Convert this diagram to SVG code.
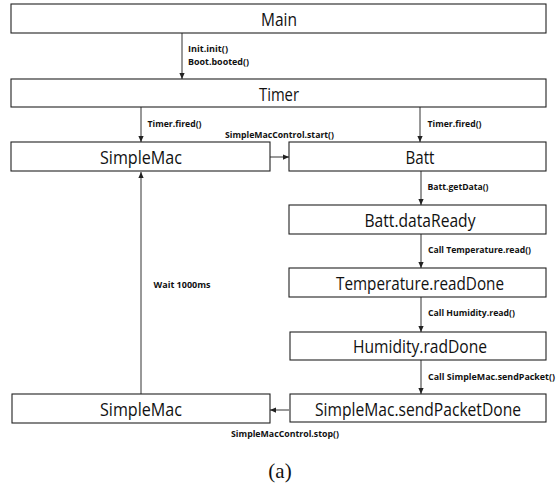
<svg xmlns="http://www.w3.org/2000/svg" width="557" height="485" viewBox="0 0 557 485">
<defs>
<marker id="ah" viewBox="0 0 8 8" refX="8" refY="4" markerWidth="6" markerHeight="6" markerUnits="userSpaceOnUse" orient="auto">
<path d="M0,0.5 L8,4 L0,7.5 Z" fill="#222"/>
</marker>
<style>
.box{fill:#fff;stroke:#222;stroke-width:1.1}
.bt{font-family:"Open Sans","Noto Sans",sans-serif;font-size:17.5px;fill:#111;text-anchor:middle}
.lb{font-family:"Open Sans","Noto Sans",sans-serif;font-size:8px;font-weight:bold;fill:#111}
.cn{fill:none;stroke:#333;stroke-width:1;marker-end:url(#ah)}
.cap{font-family:"Liberation Serif","Times New Roman",serif;font-size:21px;fill:#111;text-anchor:middle}
</style>
</defs>
<rect width="557" height="485" fill="#fff"/>
<g id="connectors">
<line class="cn" x1="182" y1="33" x2="182" y2="79"/>
<line class="cn" x1="141" y1="107" x2="141" y2="142"/>
<line class="cn" x1="420" y1="107" x2="420" y2="142"/>
<line class="cn" x1="270" y1="157" x2="289" y2="157"/>
<line class="cn" x1="421" y1="171" x2="421" y2="205"/>
<line class="cn" x1="421" y1="234" x2="421" y2="268"/>
<line class="cn" x1="421" y1="297" x2="421" y2="332"/>
<line class="cn" x1="421" y1="360" x2="421" y2="394"/>
<line class="cn" x1="289" y1="410" x2="270" y2="410"/>
<line class="cn" x1="141" y1="394" x2="141" y2="172"/>
</g>
<g id="labels">
<text class="lb" x="188" y="52" textLength="40" lengthAdjust="spacingAndGlyphs">Init.init()</text>
<text class="lb" x="188" y="65" textLength="61" lengthAdjust="spacingAndGlyphs">Boot.booted()</text>
<text class="lb" x="147.5" y="127" textLength="54" lengthAdjust="spacingAndGlyphs">Timer.fired()</text>
<text class="lb" x="427.5" y="127" textLength="54" lengthAdjust="spacingAndGlyphs">Timer.fired()</text>
<text class="lb" x="225" y="138" textLength="109" lengthAdjust="spacingAndGlyphs">SimpleMacControl.start()</text>
<text class="lb" x="427.5" y="190" textLength="61" lengthAdjust="spacingAndGlyphs">Batt.getData()</text>
<text class="lb" x="428" y="253" textLength="103" lengthAdjust="spacingAndGlyphs">Call Temperature.read()</text>
<text class="lb" x="153.5" y="288" textLength="57" lengthAdjust="spacingAndGlyphs">Wait 1000ms</text>
<text class="lb" x="428" y="316" textLength="87" lengthAdjust="spacingAndGlyphs">Call Humidity.read()</text>
<text class="lb" x="428" y="380" textLength="127" lengthAdjust="spacingAndGlyphs">Call SimpleMac.sendPacket()</text>
<text class="lb" x="231" y="437" textLength="108" lengthAdjust="spacingAndGlyphs">SimpleMacControl.stop()</text>
</g>
<g id="main"><rect class="box" x="11" y="4" width="535" height="29"/><text class="bt" x="279" y="26" textLength="36" lengthAdjust="spacingAndGlyphs">Main</text></g>
<g id="timer"><rect class="box" x="11" y="79" width="535" height="28"/><text class="bt" x="279" y="101" textLength="40" lengthAdjust="spacingAndGlyphs">Timer</text></g>
<g id="simplemac-top"><rect class="box" x="11" y="142" width="259" height="29"/><text class="bt" x="141" y="164" textLength="82" lengthAdjust="spacingAndGlyphs">SimpleMac</text></g>
<g id="batt"><rect class="box" x="289" y="142" width="257" height="29"/><text class="bt" x="420" y="164" textLength="29" lengthAdjust="spacingAndGlyphs">Batt</text></g>
<g id="batt-dataready"><rect class="box" x="289" y="205" width="257" height="29"/><text class="bt" x="420" y="227" textLength="111" lengthAdjust="spacingAndGlyphs">Batt.dataReady</text></g>
<g id="temperature-readdone"><rect class="box" x="289" y="268" width="257" height="29"/><text class="bt" x="420" y="290" textLength="168" lengthAdjust="spacingAndGlyphs">Temperature.readDone</text></g>
<g id="humidity-raddone"><rect class="box" x="290" y="332" width="256" height="28"/><text class="bt" x="420" y="353" textLength="134" lengthAdjust="spacingAndGlyphs">Humidity.radDone</text></g>
<g id="simplemac-bottom"><rect class="box" x="12" y="394" width="258" height="29"/><text class="bt" x="141" y="416" textLength="82" lengthAdjust="spacingAndGlyphs">SimpleMac</text></g>
<g id="sendpacketdone"><rect class="box" x="290" y="394" width="256" height="28"/><text class="bt" x="418" y="416" textLength="206" lengthAdjust="spacingAndGlyphs">SimpleMac.sendPacketDone</text></g>
<text class="cap" x="280" y="478">(a)</text>
</svg>
